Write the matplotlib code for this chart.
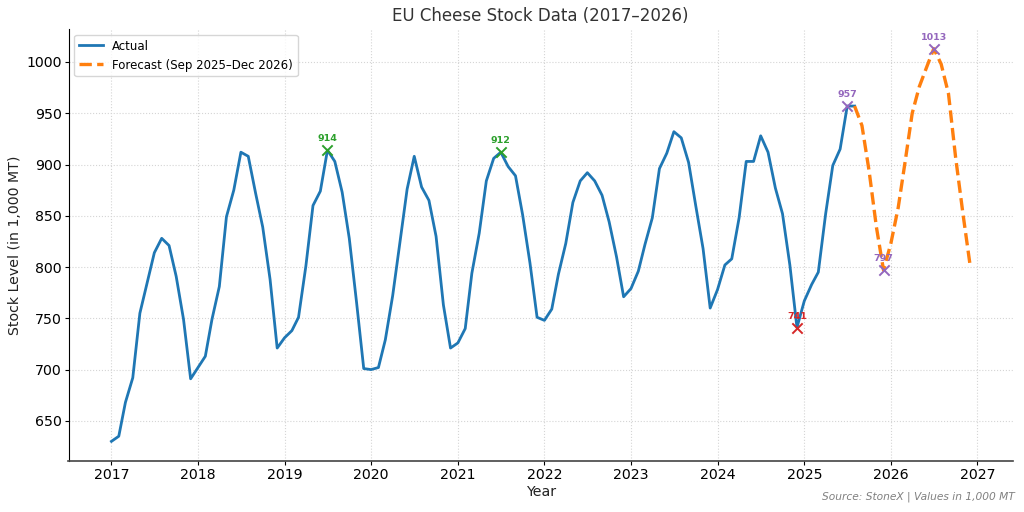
import numpy as np
import pandas as pd
import matplotlib
matplotlib.use("Agg")
import matplotlib.pyplot as plt

# Monthly EU cheese stocks, 1,000 MT (Jan 2017 - Aug 2025)
actual_values = [
    630, 635, 668, 692, 755, 785, 814, 828, 821, 791, 749, 691,   # 2017
    702, 713, 749, 781, 849, 875, 912, 908, 872, 839, 788, 721,   # 2018
    731, 738, 751, 801, 860, 874, 914, 903, 873, 828, 765, 701,   # 2019
    700, 702, 729, 772, 823, 876, 908, 878, 865, 830, 763, 721,   # 2020
    726, 740, 794, 833, 884, 906, 912, 898, 889, 851, 804, 751,   # 2021
    748, 759, 793, 823, 863, 884, 892, 884, 870, 844, 810, 771,   # 2022
    779, 796, 822, 848, 896, 911, 932, 926, 902, 860, 818, 760,   # 2023
    778, 802, 808, 848, 903, 903, 928, 912, 877, 852, 802, 741,   # 2024
    767, 783, 795, 852, 899, 915, 957, 957,                       # 2025
]
actual_start = "2017-01-01"

# Forecast Sep 2025 - Dec 2026
forecast_values = [938, 894, 839, 797, 823, 858, 901, 950,
                   976, 995, 1013, 998, 969, 907, 852, 802]
forecast_start = "2025-09-01"

# highlighted points
mark_dates = ["2019-07-01", "2021-07-01", "2024-12-01",
              "2025-07-01", "2025-12-01", "2026-07-01"]
mark_values = [914, 912, 741, 957, 797, 1013]
mark_colors = ["tab:green", "tab:green", "tab:red",
               "tab:purple", "tab:purple", "tab:purple"]

actual_dates = pd.date_range(actual_start, periods=len(actual_values), freq="MS")
forecast_dates = pd.date_range(forecast_start, periods=len(forecast_values), freq="MS")

# connect forecast to last actual point
fc_dates = [actual_dates[-1]] + list(forecast_dates)
fc_values = [actual_values[-1]] + forecast_values

fig, ax = plt.subplots(figsize=(10.24, 5.12), dpi=100)
fig.subplots_adjust(left=68.5/1024, right=1013/1024, top=1-29/512, bottom=1-461/512)

ax.plot(actual_dates, actual_values, color="tab:blue", linewidth=2, label="Actual")
ax.plot(fc_dates, fc_values, color="tab:orange", linewidth=2.4, linestyle="--",
        label="Forecast (Sep 2025\u2013Dec 2026)")

for d, v, c in zip(pd.to_datetime(mark_dates), mark_values, mark_colors):
    ax.scatter(d, v, marker="x", s=55, color=c, linewidths=1.4, zorder=5)
    ax.annotate(str(v), (d, v), xytext=(0, 5), textcoords="offset points",
                ha="center", va="bottom", fontsize=6.8, fontweight="bold", color=c)

ax.set_title("EU Cheese Stock Data (2017\u20132026)", fontsize=12, color="#333333")
ax.set_xlabel("Year", fontsize=10.2, color="#222222", labelpad=2)
ax.set_ylabel("Stock Level (in 1,000 MT)", fontsize=10.2, color="#222222", labelpad=3)
ax.tick_params(labelsize=10.2, length=3, pad=2)
ax.grid(True, linestyle=":", color="#d5d5d5", linewidth=0.8)
ax.spines["top"].set_visible(False)
ax.spines["right"].set_visible(False)
ax.spines["bottom"].set_color("#444444")
ax.spines["bottom"].set_linewidth(1.2)
ax.legend(loc="upper left", fontsize=8.5)

fig.text(1015/1024, 1-497/512, "Source: StoneX | Values in 1,000 MT", ha="right", va="center",
         fontsize=7.7, style="italic", color="gray")

plt.savefig("out.png")
